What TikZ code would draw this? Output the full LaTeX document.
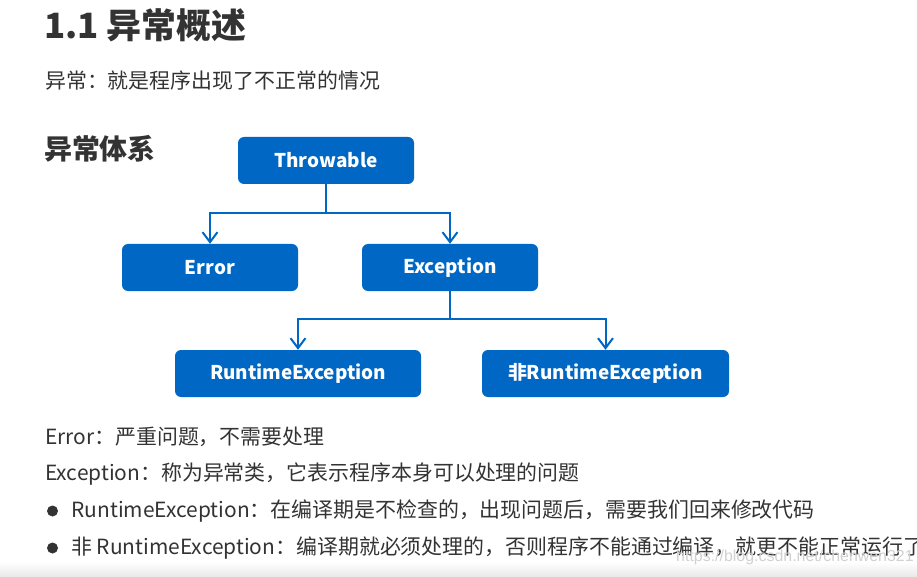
\documentclass[tikz,border=0pt]{standalone}
\usepackage{fontspec}
\setmainfont{Noto Sans CJK SC}
\newfontfamily\markfont{Liberation Sans}
\usetikzlibrary{positioning, arrows.meta}
\definecolor{boxblue}{RGB}{0,104,196}
\definecolor{inkgray}{RGB}{51,51,51}

\begin{document}
\begin{tikzpicture}[x=1bp, y=-1bp,
    box/.style={draw=none, fill=boxblue, rounded corners=6bp, minimum height=47bp,
                inner sep=0pt, text=white, font=\fontsize{19}{19}\selectfont\bfseries},
    link/.style={draw=boxblue, line width=2bp, -{Straight Barb[length=10bp, width=15bp]}},
    line/.style={anchor=west, inner sep=0pt, text=inkgray, font=\fontsize{21}{21}\selectfont}]
        % page and bottom band
        \useasboundingbox (0,0) rectangle (917,577);
        \fill[white] (0,0) rectangle (917,577);
        \shade[top color=white, bottom color=black!9] (0,562) rectangle (917,577);

        % Headings
        \node[anchor=west, inner sep=0pt, text=inkgray, font=\fontsize{35}{35}\selectfont\bfseries] (title) at (44,25) {1.1 异常概述};
        \node[line] (intro) at (45,81) {异常：就是程序出现了不正常的情况};
        \node[anchor=west, inner sep=0pt, text=inkgray, font=\fontsize{28}{28}\selectfont\bfseries] (sys) at (44,149) {异常体系};

        % Hierarchy blocks
        \node[box, minimum width=176bp] (thr) at (326,160.5) {Throwable};
        \node[box, minimum width=176bp] (err) at (210,267.5) {Error};
        \node[box, minimum width=176bp] (exc) at (450,267.5) {Exception};
        \node[box, minimum width=246bp] (rte) at (298,373.5) {RuntimeException};
        \node[box, minimum width=247bp] (nrte) at (605.5,373.5) {非RuntimeException};

        % Connect parents to children
        \foreach \child in {err, exc}
            \draw[link] (thr.south) -- ++(0,29) -| (\child.north);
        \foreach \child in {rte, nrte}
            \draw[link] (exc.south) -- ++(0,28) -| (\child.north);

        % Notes below the blocks
        \node[line] (errnote) at (45,437) {Error：严重问题，不需要处理};
        \node[line] (excnote) at (45,474) {Exception：称为异常类，它表示程序本身可以处理的问题};
        \foreach \y/\name in {511/rtdot, 548/nrtdot}
            \node[circle, fill=inkgray, inner sep=0pt, minimum size=11bp] (\name) at (52.5,\y) {};
        \node[line, right=13bp of rtdot] (rtnote) {RuntimeException：在编译期是不检查的，出现问题后，需要我们回来修改代码};
        \node[line, right=13bp of nrtdot] (nrtnote) {非 RuntimeException：编译期就必须处理的，否则程序不能通过编译，就更不能正常运行了};

        % watermark
        \node[anchor=west, inner sep=0pt, text=black!18, font=\markfont\fontsize{16}{16}\selectfont] (mark) at (676,557) {https://blog.csdn.net/chenwen321};
    \end{tikzpicture}
\end{document}
